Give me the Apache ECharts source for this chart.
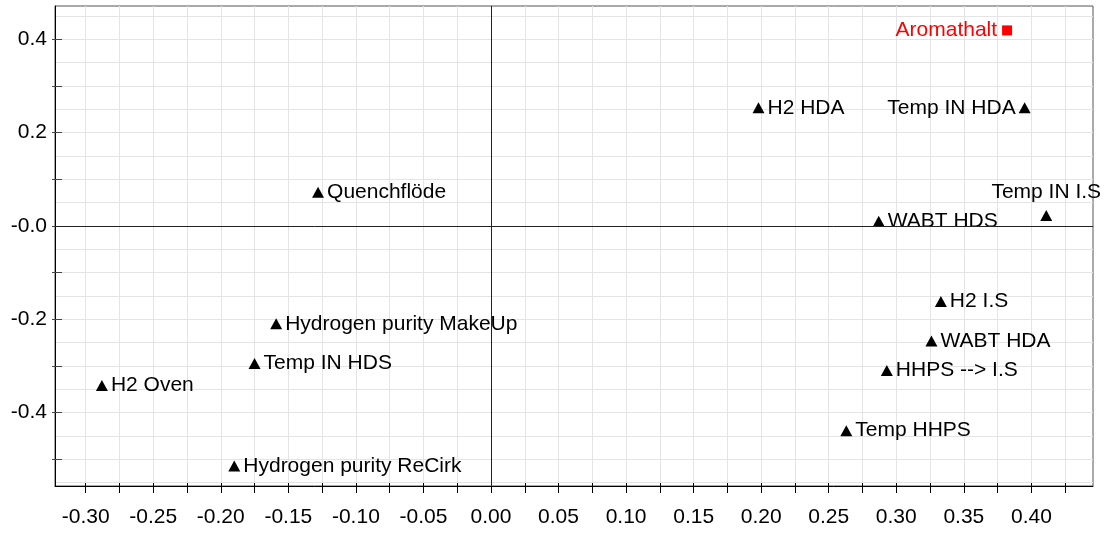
<!DOCTYPE html>
<html>
<head>
<meta charset="utf-8">
<script src="https://cdn.jsdelivr.net/npm/echarts@6/dist/echarts.min.js"></script>
<style>
  html, body { margin: 0; padding: 0; background: #fff; }
  #chart { width: 1106px; height: 535px; }
</style>
</head>
<body>
<div id="chart"></div>
<script>
// Loadings of the process variables (triangles)
const varNames = ['Quenchflöde', 'Hydrogen purity MakeUp', 'Temp IN HDS', 'H2 Oven',
  'Hydrogen purity ReCirk', 'H2 HDA', 'Temp IN HDA', 'Temp IN I.S', 'WABT HDS',
  'H2 I.S', 'WABT HDA', 'HHPS --> I.S', 'Temp HHPS'];
const varX = [-0.128, -0.159, -0.175, -0.288, -0.190, 0.198, 0.395, 0.411, 0.287,
  0.333, 0.326, 0.293, 0.263];
const varY = [0.072, -0.210, -0.295, -0.342, -0.515, 0.253, 0.253, 0.022, 0.010,
  -0.162, -0.247, -0.310, -0.439];

// Response loading (red square)
const respNames = ['Aromathalt'];
const respX = [0.382];
const respY = [0.419];

// Axis ticks, labels and grid lines
const xTicks = [-0.300, -0.275, -0.250, -0.225, -0.200, -0.175, -0.150, -0.125, -0.100,
  -0.075, -0.050, -0.025, 0.000, 0.025, 0.050, 0.075, 0.100, 0.125, 0.150, 0.175,
  0.200, 0.225, 0.250, 0.275, 0.300, 0.325, 0.350, 0.375, 0.400, 0.425];
const xLabels = [-0.30, -0.25, -0.20, -0.15, -0.10, -0.05, 0.00, 0.05, 0.10, 0.15,
  0.20, 0.25, 0.30, 0.35, 0.40];
const yTicks = [-0.5, -0.4, -0.3, -0.2, -0.1, 0.0, 0.1, 0.2, 0.3, 0.4];
const yLabels = [-0.4, -0.2, 0.0, 0.2, 0.4];
const yGrid = [-0.55, -0.50, -0.45, -0.40, -0.35, -0.30, -0.25, -0.20, -0.15, -0.10,
  -0.05, 0.00, 0.05, 0.10, 0.15, 0.20, 0.25, 0.30, 0.35, 0.40, 0.45];

const X_MIN = -0.3227, X_MAX = 0.4456;
const Y_MIN = -0.5577, Y_MAX = 0.4713;

const FONT = "'Liberation Sans', Arial, sans-serif";
const FS = 21;

const labelSide = { 'Temp IN HDA': 'left', 'Temp IN I.S': 'top' };

const varData = varNames.map((n, i) => {
  const pos = labelSide[n] || 'right';
  return {
    name: n,
    value: [varX[i], varY[i]],
    label: { position: pos, distance: pos === 'top' ? 7 : 3 }
  };
});
const respData = respNames.map((n, i) => ({ name: n, value: [respX[i], respY[i]] }));

// helper for axes that only contribute ticks or grid lines
const hiddenParts = {
  axisLine: { show: false, onZero: false },
  axisLabel: { show: false },
  splitLine: { show: false }
};

const chart = echarts.init(document.getElementById('chart'), null, { renderer: 'canvas' });
chart.setOption({
  animation: false,
  backgroundColor: '#ffffff',
  grid: {
    left: 55, right: 13, top: 6, bottom: 49,
    show: true, borderColor: '#555555', borderWidth: 1, backgroundColor: 'transparent'
  },
  xAxis: [
    {
      type: 'value', position: 'bottom', min: X_MIN, max: X_MAX,
      axisLine: { show: true, onZero: false, lineStyle: { color: '#000', width: 1 } },
      axisTick: { show: true, inside: false, length: 7, customValues: xTicks,
        lineStyle: { color: '#000', width: 1 } },
      axisLabel: { show: true, customValues: xLabels, margin: 21,
        color: '#000', fontFamily: FONT, fontSize: FS,
        formatter: v => v.toFixed(2) },
      splitLine: { show: true, lineStyle: { color: '#e4e4e4', width: 1 } }
    },
    Object.assign({
      type: 'value', position: 'bottom', min: X_MIN, max: X_MAX,
      axisTick: { show: true, inside: true, length: 3, customValues: xTicks,
        lineStyle: { color: '#000', width: 1 } }
    }, hiddenParts)
  ],
  yAxis: [
    {
      type: 'value', position: 'left', min: Y_MIN, max: Y_MAX,
      axisLine: { show: true, onZero: false, lineStyle: { color: '#000', width: 1 } },
      axisTick: { show: true, inside: false, length: 3, customValues: yTicks,
        lineStyle: { color: '#444', width: 1 } },
      axisLabel: { show: true, customValues: yLabels, margin: 8,
        color: '#000', fontFamily: FONT, fontSize: FS,
        formatter: v => (Math.abs(v) < 1e-9 ? '-0.0' : v.toFixed(1)) },
      splitLine: { show: false }
    },
    Object.assign({
      type: 'value', position: 'left', min: Y_MIN, max: Y_MAX,
      axisTick: { show: false, customValues: yGrid }
    }, hiddenParts, {
      splitLine: { show: true, lineStyle: { color: '#e4e4e4', width: 1 } }
    }),
    Object.assign({
      type: 'value', position: 'left', min: Y_MIN, max: Y_MAX,
      axisTick: { show: true, inside: true, length: 7, customValues: yTicks,
        lineStyle: { color: '#444', width: 1 } }
    }, hiddenParts)
  ],
  series: [
    {
      name: 'Variables',
      type: 'scatter',
      xAxisIndex: 0, yAxisIndex: 0,
      symbol: 'triangle',
      symbolSize: [12, 11],
      itemStyle: { color: '#000', opacity: 1 },
      label: {
        show: true, formatter: '{b}', color: '#000',
        fontFamily: FONT, fontSize: FS
      },
      data: varData,
      markLine: {
        silent: true,
        symbol: ['none', 'none'],
        label: { show: false },
        lineStyle: { color: '#222', width: 1, type: 'solid', opacity: 1 },
        data: [{ xAxis: 0 }, { yAxis: 0 }]
      },
      z: 3
    },
    {
      name: 'Response',
      type: 'scatter',
      xAxisIndex: 0, yAxisIndex: 0,
      symbol: 'rect',
      symbolSize: 10,
      itemStyle: { color: '#ff0000', opacity: 1 },
      label: {
        show: true, position: 'left', distance: 5, formatter: '{b}',
        color: '#ff0000', fontFamily: FONT, fontSize: FS
      },
      data: respData,
      z: 3
    }
  ]
});
</script>
</body>
</html>
